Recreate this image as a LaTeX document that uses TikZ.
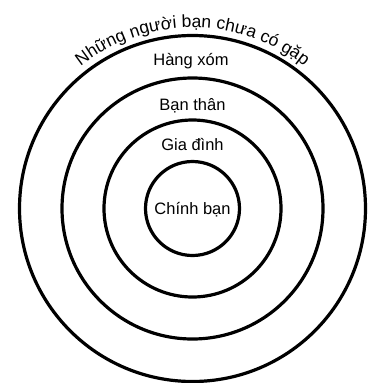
\documentclass[tikz,border=0pt]{standalone}
\usepackage{fontspec}
\setmainfont{Liberation Sans}
\usetikzlibrary{decorations.text}
\begin{document}
\begin{tikzpicture}[x=1bp,y=-1bp,
  ring/.style={draw=black, line width=3.2bp, circle, inner sep=0pt, minimum size=#1},
  lbl/.style={anchor=base, inner sep=0pt, font=\fontsize{16.5bp}{20bp}\selectfont}]
\useasboundingbox (0,0) rectangle (378,383);
\coordinate (o) at (192.5,208.5);
\node[ring=346bp] (c4) at (o) {};
\node[ring=261bp] (c3) at (o) {};
\node[ring=177bp] (c2) at (o) {};
\node[ring=94bp]  (c1) at (o) {};
\node[lbl] (t1) at (192.5,214) {Chính bạn};
\node[lbl] (t2) at (192.5,150) {Gia đình};
\node[lbl] (t3) at (192.5,110) {Bạn thân};
\node[lbl] (t4) at (191,65) {Hàng xóm};
\path[decorate, decoration={text along path, text align=center,
  text={|\fontsize{17.5bp}{21bp}\selectfont|Những người bạn chưa có gặp}}]
  (o) ++(-150:181) arc[start angle=-150, end angle=-30, radius=181];
\end{tikzpicture}
\end{document}
